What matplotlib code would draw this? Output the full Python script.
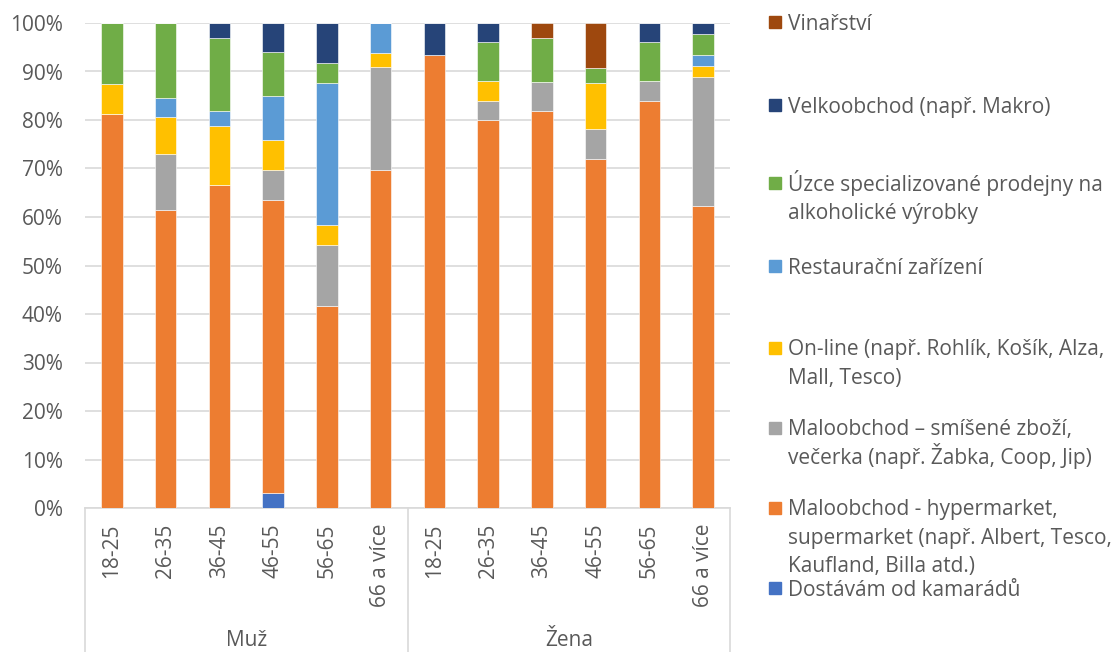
import matplotlib

matplotlib.use("Agg")
import matplotlib.pyplot as plt
from matplotlib.patches import Rectangle
import numpy as np

plt.rcParams["font.family"] = ["Open Sans", "DejaVu Sans"]

age_groups = ["18-25", "26-35", "36-45", "46-55", "56-65", "66 a více"]
genders = ["Muž", "Žena"]
categories = age_groups * 2

# shares in % (bottom of the stack first)
kamaradi = [0, 0, 0, 3.0, 0, 0, 0, 0, 0, 0, 0, 0]
hypermarket = [81.25, 61.5, 66.7, 60.6, 41.7, 69.7, 93.3, 80.0, 81.8, 71.9, 84.0, 62.2]
smisene = [0, 11.5, 0, 6.1, 12.5, 21.2, 0, 4.0, 6.1, 6.25, 4.0, 26.7]
online = [6.25, 7.7, 12.1, 6.1, 4.2, 3.0, 0, 4.0, 0, 9.4, 0, 2.2]
restaurace = [0, 3.8, 3.0, 9.1, 29.2, 6.1, 0, 0, 0, 0, 0, 2.2]
specializovane = [12.5, 15.4, 15.2, 9.1, 4.2, 0, 0, 8.0, 9.1, 3.1, 8.0, 4.4]
velkoobchod = [0, 0, 3.0, 6.1, 8.3, 0, 6.7, 4.0, 0, 0, 4.0, 2.2]
vinarstvi = [0, 0, 0, 0, 0, 0, 0, 0, 3.0, 9.4, 0, 0]

series = [
    ("Dostávám od kamarádů", kamaradi, "#4472C4"),
    ("Maloobchod - hypermarket,\nsupermarket (např. Albert, Tesco,\nKaufland, Billa atd.)", hypermarket, "#ED7D31"),
    ("Maloobchod – smíšené zboží,\nvečerka (např. Žabka, Coop, Jip)", smisene, "#A5A5A5"),
    ("On-line (např. Rohlík, Košík, Alza,\nMall, Tesco)", online, "#FFC000"),
    ("Restaurační zařízení", restaurace, "#5B9BD5"),
    ("Úzce specializované prodejny na\nalkoholické výrobky", specializovane, "#70AD47"),
    ("Velkoobchod (např. Makro)", velkoobchod, "#264478"),
    ("Vinařství", vinarstvi, "#9E480E"),
]

W, H = 1119, 652
FS = 15
fig = plt.figure(figsize=(W / 100, H / 100), dpi=100)
ax = fig.add_axes([85 / W, 1 - 508 / H, (730 - 85) / W, (508 - 23) / H])

text_color = "#595959"
x = np.arange(len(categories))
bottom = np.zeros(len(categories))
for label, values, color in series:
    vals = np.array(values, dtype=float)
    ax.bar(x, vals, bottom=bottom, width=0.4, color=color, edgecolor="white", linewidth=0.4, zorder=3)
    bottom += vals

ax.set_xlim(-0.5, len(categories) - 0.5)
ax.set_ylim(0, 100)
ax.set_yticks(np.arange(0, 101, 10))
ax.set_yticklabels([f"{v}%" for v in range(0, 101, 10)], fontsize=FS, color=text_color)
ax.grid(axis="y", color="#D9D9D9", linewidth=1.2, zorder=0)
ax.tick_params(axis="y", length=0, pad=16)
ax.set_xticks(x)
ax.set_xticklabels(categories, rotation=90, fontsize=FS, color=text_color, va="top")
ax.tick_params(axis="x", length=0, pad=11)
for side in ["top", "right", "left"]:
    ax.spines[side].set_visible(False)
ax.spines["bottom"].set_color("#D9D9D9")
ax.spines["bottom"].set_linewidth(1.2)

# two-level category axis: group separators and group names
trans = ax.get_xaxis_transform()
depth = (H - 508) / (508 - 23)
for xs in [-0.5, 5.5, 11.5]:
    ax.plot([xs, xs], [0, -depth], transform=trans, color="#D9D9D9", linewidth=1.2, clip_on=False)
for i, g in enumerate(genders):
    ax.text(2.5 + 6 * i, -(646 - 508) / (508 - 23), g, transform=trans, ha="center", va="baseline",
            fontsize=FS, color=text_color)

# legend drawn by hand, top entry first, one text per line for even spacing
legend_y = [22, 105, 183, 266, 348, 428, 508, 588]
line_px = 28.4
for (label, _, color), ly in zip(reversed(series), legend_y):
    fig.add_artist(Rectangle((769 / W, 1 - (ly + 6) / H), 12 / W, 12 / H, color=color,
                             transform=fig.transFigure))
    for j, line in enumerate(label.split("\n")):
        base = ly + 7.5 + j * line_px
        fig.text(788 / W, 1 - base / H, line, fontsize=FS, color=text_color, va="baseline", ha="left")

fig.savefig("out.png", dpi=100)
